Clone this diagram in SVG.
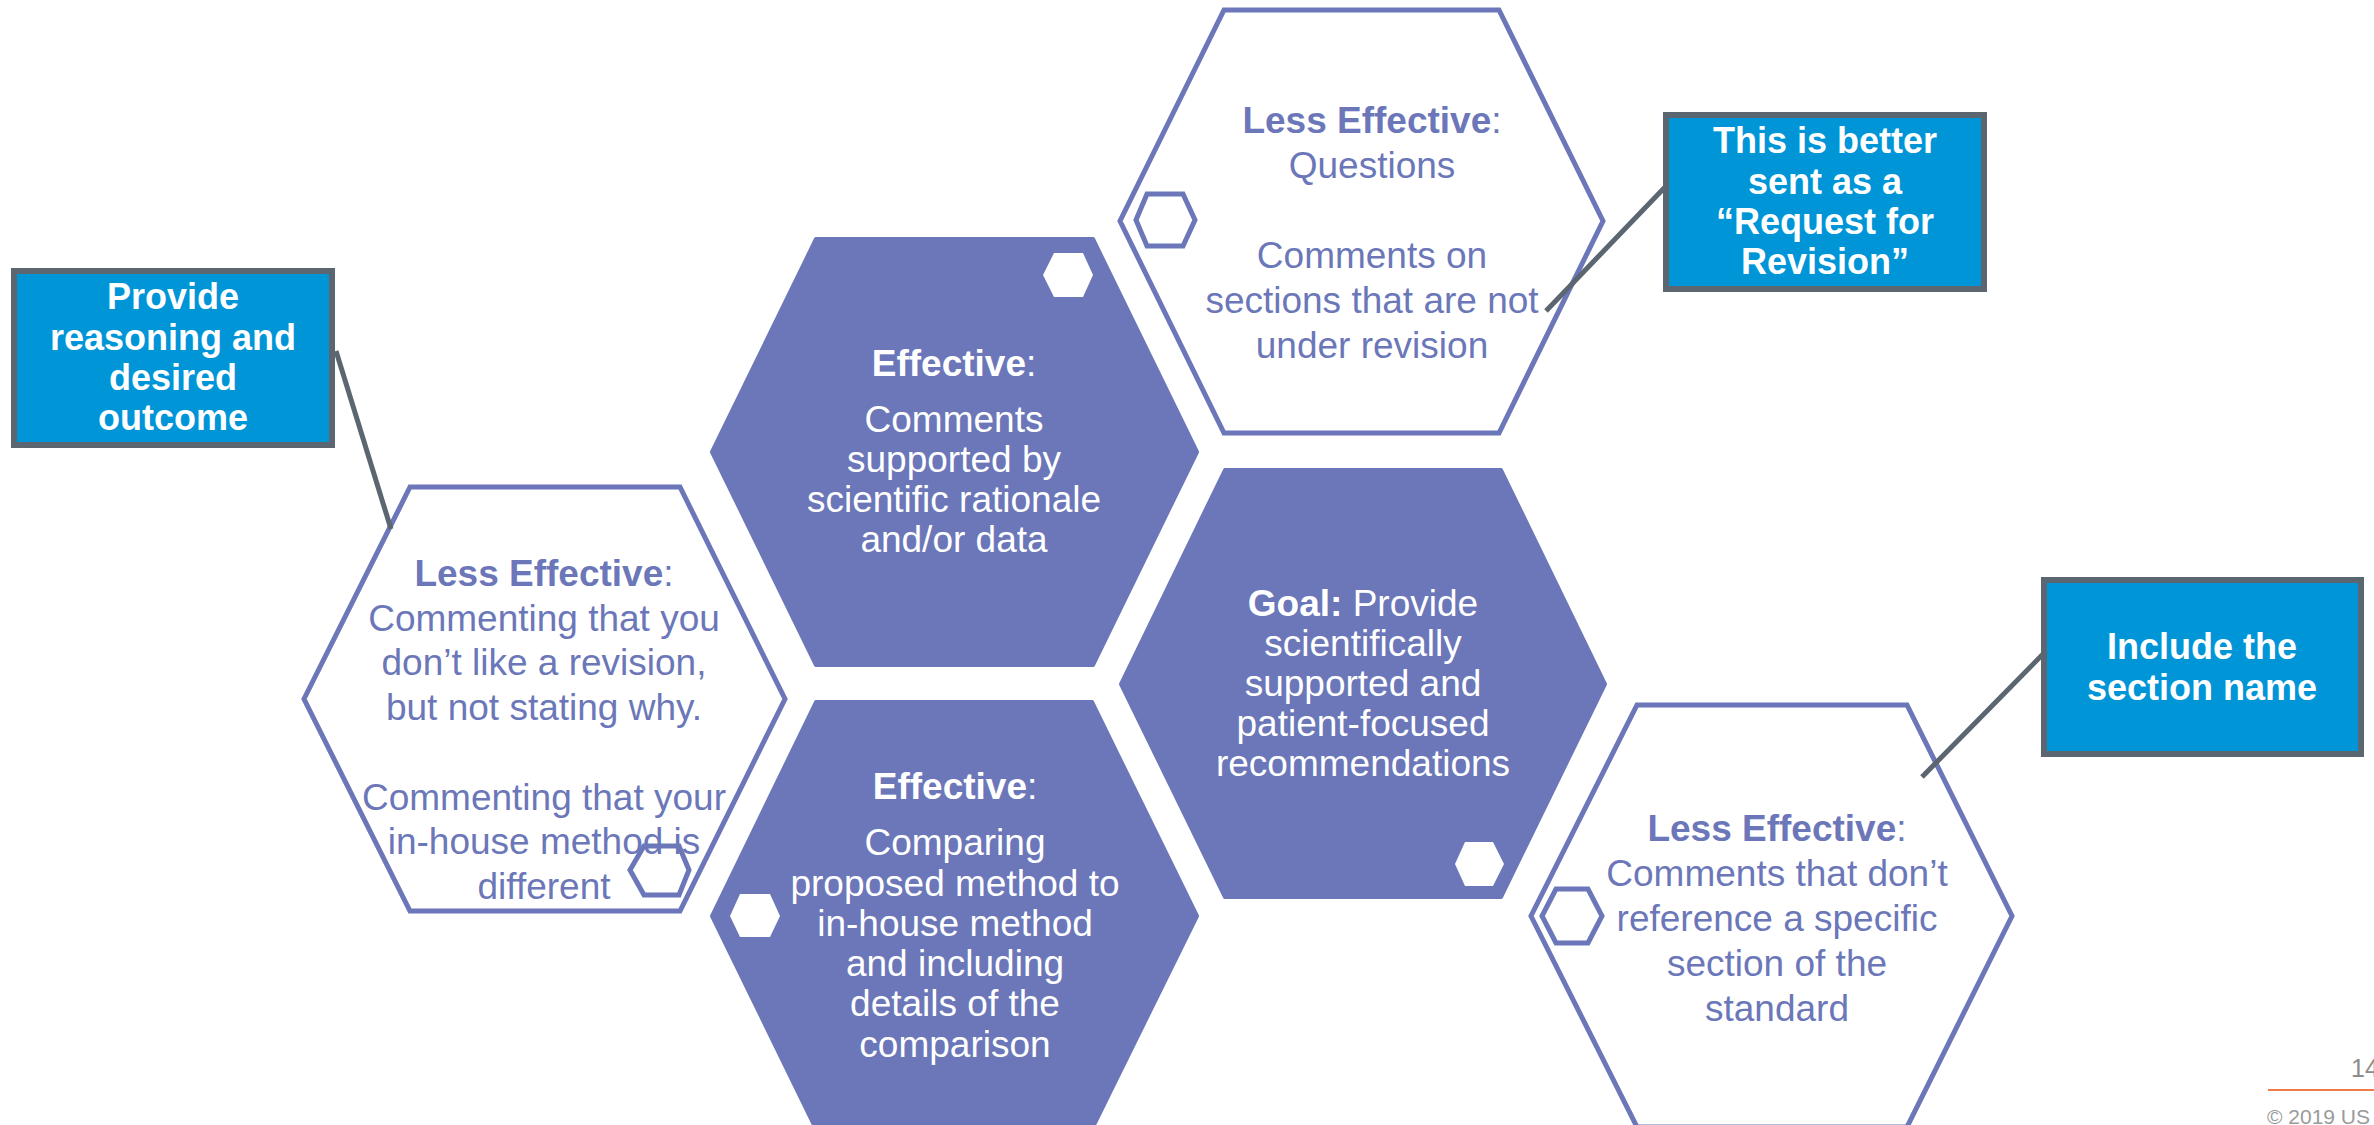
<svg xmlns="http://www.w3.org/2000/svg" width="2374" height="1125" viewBox="0 0 2374 1125">
<style>
.hexf{fill:#6B77B8;stroke:#6B77B8;stroke-width:4;stroke-linejoin:round}
.hexo{fill:none;stroke:#6B77B8;stroke-width:5;stroke-linejoin:miter}
.dot{fill:#FFFFFF}
.doto{fill:none;stroke:#6B77B8;stroke-width:5}
.box{fill:#0095D7;stroke:#5C6670;stroke-width:6}
.conn{stroke:#5C6670;stroke-width:5;fill:none}
text{font-family:"Liberation Sans",Arial,sans-serif;text-anchor:middle}
.tp{fill:#6B77B8;font-size:37px}
.tw{fill:#FFFFFF;font-size:37px}
.tb{fill:#FFFFFF;font-size:36px;font-weight:bold}
.b{font-weight:bold}
</style>
<rect width="2374" height="1125" fill="#FFFFFF"/>

<g id="hex-less-effective-left">
<polygon class="hexo" points="410,487 680,487 785,699 680,911 410,911 304,699"/>
<polygon class="doto" points="644,846 679,846 689,870 679,895 644,895 630,870"/>
<text class="tp"><tspan x="544" y="586"><tspan class="b">Less Effective</tspan>:</tspan><tspan x="544" y="631">Commenting that you</tspan><tspan x="544" y="675">don’t like a revision,</tspan><tspan x="544" y="720">but not stating why.</tspan><tspan x="544" y="810">Commenting that your</tspan><tspan x="544" y="854">in-house method is</tspan><tspan x="544" y="899">different</tspan></text>
</g>

<g id="hex-effective-top">
<polygon class="hexf" points="816,239 1093,239 1197,452 1093,665 816,665 712,452"/>
<polygon class="dot" points="1054,253 1083,253 1093,275 1083,297 1054,297 1043,275"/>
<text class="tw"><tspan x="954" y="376"><tspan class="b">Effective</tspan>:</tspan><tspan x="954" y="432">Comments</tspan><tspan x="954" y="472">supported by</tspan><tspan x="954" y="512">scientific rationale</tspan><tspan x="954" y="552">and/or data</tspan></text>
</g>

<g id="hex-effective-bottom">
<polygon class="hexf" points="816,702 1092,702 1197,916 1092,1129 816,1129 712,916"/>
<polygon class="dot" points="740,894 770,894 780,916 770,937 740,937 730,916"/>
<text class="tw"><tspan x="955" y="799"><tspan class="b">Effective</tspan>:</tspan><tspan x="955" y="855">Comparing</tspan><tspan x="955" y="896">proposed method to</tspan><tspan x="955" y="936">in-house method</tspan><tspan x="955" y="976">and including</tspan><tspan x="955" y="1016">details of the</tspan><tspan x="955" y="1057">comparison</tspan></text>
</g>

<g id="hex-goal">
<polygon class="hexf" points="1225,470 1501,470 1605,684 1501,897 1225,897 1121,684"/>
<polygon class="dot" points="1465,842 1493,842 1504,864 1493,886 1465,886 1455,864"/>
<text class="tw"><tspan x="1363" y="616"><tspan class="b">Goal:</tspan> Provide</tspan><tspan x="1363" y="656">scientifically</tspan><tspan x="1363" y="696">supported and</tspan><tspan x="1363" y="736">patient-focused</tspan><tspan x="1363" y="776">recommendations</tspan></text>
</g>

<g id="hex-less-effective-top">
<polygon class="hexo" points="1224,10 1499,10 1603,221 1499,433 1224,433 1120,221"/>
<polygon class="doto" points="1147,194 1183,194 1195,220 1183,246 1147,246 1136,220"/>
<text class="tp"><tspan x="1372" y="133"><tspan class="b">Less Effective</tspan>:</tspan><tspan x="1372" y="178">Questions</tspan><tspan x="1372" y="268">Comments on</tspan><tspan x="1372" y="313">sections that are not</tspan><tspan x="1372" y="358">under revision</tspan></text>
</g>

<g id="hex-less-effective-bottom">
<polygon class="hexo" points="1637,705 1907,705 2012,916 1907,1127 1637,1127 1531,916"/>
<polygon class="doto" points="1556,889 1588,889 1602,916 1588,943 1556,943 1542,916"/>
<text class="tp"><tspan x="1777" y="841"><tspan class="b">Less Effective</tspan>:</tspan><tspan x="1777" y="886">Comments that don’t</tspan><tspan x="1777" y="931">reference a specific</tspan><tspan x="1777" y="976">section of the</tspan><tspan x="1777" y="1021">standard</tspan></text>
</g>

<g id="callout-reasoning">
<rect class="box" x="14" y="271" width="318" height="174"/>
<text class="tb"><tspan x="173" y="309">Provide</tspan><tspan x="173" y="350">reasoning and</tspan><tspan x="173" y="390">desired</tspan><tspan x="173" y="430">outcome</tspan></text>
</g>

<g id="callout-request">
<rect class="box" x="1666" y="115" width="318" height="174"/>
<text class="tb"><tspan x="1825" y="153">This is better</tspan><tspan x="1825" y="194">sent as a</tspan><tspan x="1825" y="234">“Request for</tspan><tspan x="1825" y="274">Revision”</tspan></text>
</g>

<g id="callout-section">
<rect class="box" x="2044" y="580" width="317" height="174"/>
<text class="tb"><tspan x="2202" y="659">Include the</tspan><tspan x="2202" y="700">section name</tspan></text>
</g>

<g id="connectors">
<line class="conn" x1="336" y1="351" x2="391" y2="529"/>
<line class="conn" x1="1546" y1="311" x2="1668" y2="184"/>
<line class="conn" x1="1922" y1="777" x2="2046" y2="651"/>
</g>

<g id="footer">
<text x="2351" y="1077" style="font-size:25px;fill:#8C8C8C;text-anchor:start">14</text>
<line x1="2268" y1="1090" x2="2374" y2="1090" stroke="#F07A4A" stroke-width="2"/>
<text x="2267" y="1124" style="font-size:21px;fill:#9A9A9A;text-anchor:start">© 2019 US</text>
</g>
</svg>
